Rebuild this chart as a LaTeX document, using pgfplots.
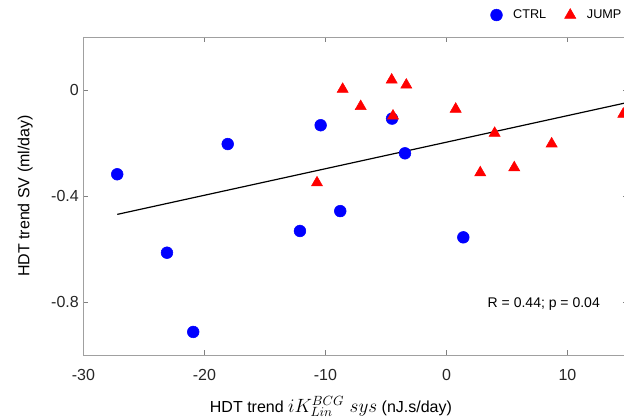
\documentclass[border=0pt]{standalone}
\usepackage{fontspec}
\setmainfont{Liberation Sans}
\usepackage{pgfplots}
\pgfplotsset{compat=1.18}
\definecolor{ctrlblue}{RGB}{0,0,255}
\definecolor{jumpred}{RGB}{255,0,0}
\definecolor{axgray}{RGB}{160,160,160}
\definecolor{txt}{RGB}{38,38,38}

\begin{document}
\begin{tikzpicture}
% the reference is cropped on the right: fix the page to that crop
\useasboundingbox (-62.6pt,-48.75pt) rectangle (405.4pt,266.25pt);
\begin{axis}[
    scale only axis, width=408.4pt, height=238.5pt,
    xmin=-30, xmax=15, ymin=-1, ymax=0.2,
    xtick={-30,-20,-10,0,10},
    ytick={-0.8,-0.4,0}, yticklabels={-0.8,-0.4,0},
    tick align=inside, major tick length=3.75pt,
    axis line style={axgray, line width=0.6pt},
    tick style={axgray!80!black, line width=0.5pt},
    /pgf/number format/assume math mode=true,
    ticklabel style={font=\fontsize{12}{14}\selectfont, text=txt},
    xticklabel style={yshift=-7pt},
    xlabel={HDT trend {\fontsize{14.5}{16}\selectfont$iK_{Lin}^{BCG}\;sys$} (nJ.s/day)},
    ylabel={HDT trend SV (ml/day)},
    label style={font=\fontsize{12}{14}\selectfont, text=black},
    xlabel style={at={(axis description cs:0.4545,-0.162)}, anchor=center},
    ylabel style={at={(axis description cs:-0.107,0.5)}, anchor=center},
    legend style={at={(axis description cs:0.736,1.069)}, anchor=west,
        draw=none, fill=none, font=\fontsize{9.5}{12}\selectfont,
        /tikz/every even column/.append style={column sep=10pt}},
    legend columns=2,
    legend image code/.code={\path[draw=none, fill=none] (-6pt,0pt) -- (10.5pt,0pt);
        \draw[mark repeat=2,mark phase=2]
        plot coordinates {(-6pt,0pt)(0pt,0pt)(6pt,0pt)};},
]
% CTRL
\addplot[only marks, mark=*, mark size=4.4pt, ctrlblue, mark options={draw=ctrlblue, fill=ctrlblue}] coordinates {
    (-27.21,-0.318) (-23.10,-0.614) (-20.93,-0.913) (-18.08,-0.204)
    (-12.11,-0.532) (-10.40,-0.133) (-8.78,-0.457) (-4.50,-0.108)
    (-3.43,-0.239) (1.39,-0.556)
};
% JUMP
\addplot[only marks, mark=triangle*, mark size=4.8pt, jumpred, mark options={draw=jumpred, fill=jumpred}] coordinates {
    (-10.70,-0.350) (-8.58,0.003) (-7.09,-0.062) (-4.53,0.038)
    (-4.42,-0.098) (-3.32,0.019) (0.76,-0.072) (2.79,-0.312)
    (3.98,-0.163) (5.60,-0.293) (8.69,-0.203) (14.61,-0.091)
};
% regression line
\addplot[black, line width=0.9pt, forget plot] coordinates {(-27.21,-0.4694) (14.8,-0.0487)};
\node[font=\fontsize{10.5}{12}\selectfont, text=black] at (axis cs:8.04,-0.808) {R = 0.44; p = 0.04};
\legend{CTRL, JUMP}
\end{axis}
\end{tikzpicture}
\end{document}
